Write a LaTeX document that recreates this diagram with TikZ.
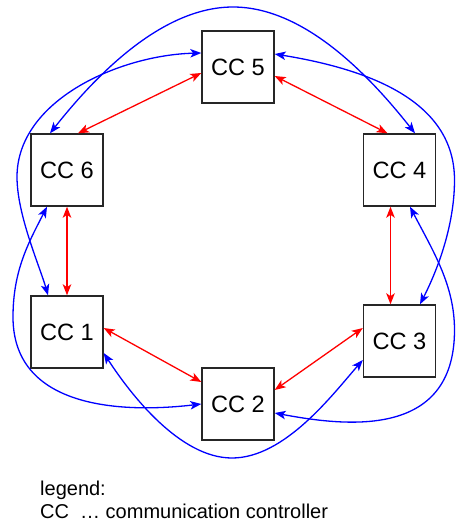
\documentclass[tikz,border=0pt]{standalone}
\usepackage{fontspec}
\setmainfont{Liberation Sans}
\usetikzlibrary{arrows.meta}
\tikzset{
  ccbox/.style={draw=black!85, line width=1.4pt, minimum width=72pt, minimum height=72pt, inner sep=0pt, font=\fontsize{23.6}{27}\selectfont},
  tipshape/.style={Stealth[length=11pt,width=8.5pt,inset=2.8pt]},
  redlink/.style={draw=red, line width=1.3pt, {Stealth[length=11pt,width=8.5pt,inset=2.8pt]}-{Stealth[length=11pt,width=8.5pt,inset=2.8pt]}},
  bluelink/.style={draw=blue, line width=1.3pt, {Stealth[length=11pt,width=8.5pt,inset=2.8pt]}-{Stealth[length=11pt,width=8.5pt,inset=2.8pt]}},
  legendtext/.style={anchor=base west, inner sep=0pt, font=\fontsize{20}{23}\selectfont}
}
\begin{document}
\begin{tikzpicture}[x=1pt,y=-1pt]
\useasboundingbox (0,0) rectangle (456,522);
\node[ccbox] (cc5) at (238,67) {CC 5};
\node[ccbox] (cc6) at (67,170) {CC 6};
\node[ccbox] (cc4) at (399.5,170) {CC 4};
\node[ccbox] (cc1) at (67,332) {CC 1};
\node[ccbox] (cc3) at (399.5,341) {CC 3};
\node[ccbox] (cc2) at (238,404) {CC 2};
% red links
\draw[redlink] ([yshift=-6pt]cc5.west) -- ([xshift=11pt]cc6.north);
\draw[redlink] ([yshift=-9pt]cc5.east) -- ([xshift=-12pt]cc4.north);
\draw[redlink] (cc6.south) -- (cc1.north);
\draw[redlink] ([xshift=-9pt]cc4.south) -- ([xshift=-9pt]cc3.north);
\draw[redlink] ([yshift=4pt]cc1.east) -- ([yshift=22pt]cc2.west);
\draw[redlink] ([yshift=14pt]cc2.east) -- ([yshift=13pt]cc3.west);
% blue links
\draw[bluelink] ([xshift=-17pt]cc6.north) .. controls (93,79) and (160,7) .. (233,7) .. controls (306,7) and (372,79) .. ([xshift=15.5pt]cc4.north);
\draw[bluelink] ([yshift=14pt]cc5.west) .. controls (120,55) and (17,100) .. (17,177) .. controls (17,215) and (40,267) .. ([xshift=-19pt]cc1.north);
\draw[bluelink] ([xshift=-20pt]cc6.south) .. controls (29,242) and (13,270) .. (13,317) .. controls (13,420) and (150,410) .. (cc2.west);
\draw[bluelink] ([yshift=-21pt]cc1.east) .. controls (131,395) and (180,458) .. (232,458) .. controls (285,458) and (333,394) .. ([yshift=-19pt]cc3.west);
\draw[bluelink] ([yshift=13pt]cc5.east) .. controls (367,69) and (454.5,100) .. (454.5,180) .. controls (454.5,225) and (438,269) .. ([xshift=20.5pt]cc3.north);
\draw[bluelink] ([xshift=10.5pt]cc4.south) .. controls (433,251) and (454.5,285) .. (454.5,330) .. controls (454.5,440) and (344,426) .. ([yshift=-9pt]cc2.east);
% legend
\node[legendtext] (leg1) at (40,495) {legend:};
\node[legendtext] (leg2) at (40,518) {CC\ \ … communication controller};
\end{tikzpicture}
\end{document}
